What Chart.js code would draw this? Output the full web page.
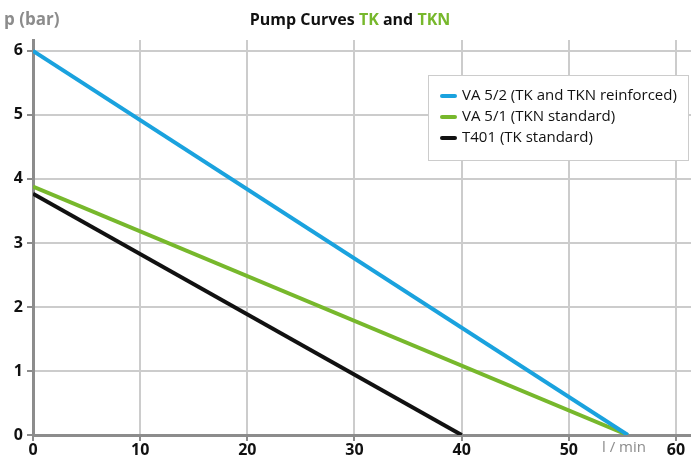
<!DOCTYPE html>
<html>
<head>
<meta charset="utf-8">
<script src="https://cdn.jsdelivr.net/npm/chart.js@4/dist/chart.umd.min.js"></script>
<style>
  html, body { margin: 0; padding: 0; background: #fff; }
  #wrap { width: 691px; height: 467px; }
</style>
</head>
<body>
<div id="wrap"><canvas id="pump-chart"></canvas></div>
<script>
// Kennlinien: Durchfluss (l/min) -> Druck (bar)
const seriesNames = ['VA 5/2 (TK and TKN reinforced)', 'VA 5/1 (TKN standard)', 'T401 (TK standard)'];
const va52Flow = [0, 55.5];
const va52Pressure = [6, 0];
const va51Flow = [0, 55.5];
const va51Pressure = [3.88, 0];
const t401Flow = [0, 40];
const t401Pressure = [3.77, 0];
const xTicks = [0, 10, 20, 30, 40, 50, 60];
const yTicks = [0, 1, 2, 3, 4, 5, 6];

const BLUE = '#1aa2de';
const GREEN = '#77b82c';
const BLACK = '#111111';
const FONT = '"Open Sans", sans-serif';

function pts(xs, ys) {
    return xs.map((x, i) => ({ x: x, y: ys[i] }));
}

// Titel, Achsentitel und Legendenkasten
const decorPlugin = {
    id: 'decor',
    afterDraw(chart) {
        const c = chart.ctx;
        c.save();
        // Titel mit grünen Teilen
        const parts = [['Pump Curves ', BLACK], ['TK', GREEN], [' and ', BLACK], ['TKN', GREEN]];
        c.font = 'bold 16px ' + FONT;
        c.textBaseline = 'middle';
        c.textAlign = 'left';
        let total = 0;
        parts.forEach(p => total += c.measureText(p[0]).width);
        let x = 350 - total / 2;
        parts.forEach(p => {
            c.fillStyle = p[1];
            c.fillText(p[0], x, 20);
            x += c.measureText(p[0]).width;
        });
        // Achsentitel
        c.fillStyle = '#8c8c8c';
        c.font = 'bold 17px ' + FONT;
        c.fillText('p (bar)', 4, 20);
        c.font = '15px ' + FONT;
        c.textAlign = 'center';
        c.fillText('l / min', 624, 448);
        // Legende
        c.fillStyle = '#fff';
        c.fillRect(428, 75, 260, 85);
        c.strokeStyle = '#cccccc';
        c.lineWidth = 1;
        c.strokeRect(428.5, 75.5, 260, 85);
        c.textAlign = 'left';
        c.font = '15px ' + FONT;
        chart.data.datasets.forEach((ds, i) => {
            const y = 96 + i * 21;
            c.strokeStyle = ds.borderColor;
            c.lineWidth = 4;
            c.lineCap = 'round';
            c.beginPath();
            c.moveTo(442, y);
            c.lineTo(455, y);
            c.stroke();
            c.fillStyle = '#111';
            c.fillText(ds.label, 462, y);
        });
        c.restore();
    }
};

const ctx = document.getElementById('pump-chart').getContext('2d');
const pumpChart = new Chart(ctx, {
    type: 'line',
    data: {
        datasets: [
            { label: seriesNames[0], data: pts(va52Flow, va52Pressure), borderColor: BLUE },
            { label: seriesNames[1], data: pts(va51Flow, va51Pressure), borderColor: GREEN },
            { label: seriesNames[2], data: pts(t401Flow, t401Pressure), borderColor: BLACK }
        ].map(d => Object.assign(d, { borderWidth: 4, pointRadius: 0, tension: 0, fill: false }))
    },
    options: {
        responsive: true,
        maintainAspectRatio: false,
        animation: false,
        layout: { padding: { top: 40, right: 0, left: 0, bottom: 0 } },
        plugins: {
            legend: { display: false },
            tooltip: { enabled: false }
        },
        scales: {
            x: {
                type: 'linear',
                min: 0,
                max: 61.4,
                afterBuildTicks: s => { s.ticks = xTicks.map(v => ({ value: v })); },
                afterFit: s => { s.height = 32; },
                ticks: { color: '#111', font: { family: FONT, size: 16, weight: 'bold' }, padding: 0, maxRotation: 0 },
                grid: { color: '#cccccc', lineWidth: 2, tickColor: '#8c8c8c', tickLength: 6 },
                border: { color: '#8c8c8c', width: 3 }
            },
            y: {
                min: 0,
                max: 6.17,
                afterBuildTicks: s => { s.ticks = yTicks.map(v => ({ value: v })); },
                afterFit: s => { s.width = 33; },
                ticks: { color: '#111', font: { family: FONT, size: 16, weight: 'bold' }, padding: 4 },
                grid: { color: '#cccccc', lineWidth: 2, tickColor: '#8c8c8c', tickLength: 6 },
                border: { color: '#8c8c8c', width: 3 }
            }
        }
    },
    plugins: [decorPlugin]
});
</script>
</body>
</html>
